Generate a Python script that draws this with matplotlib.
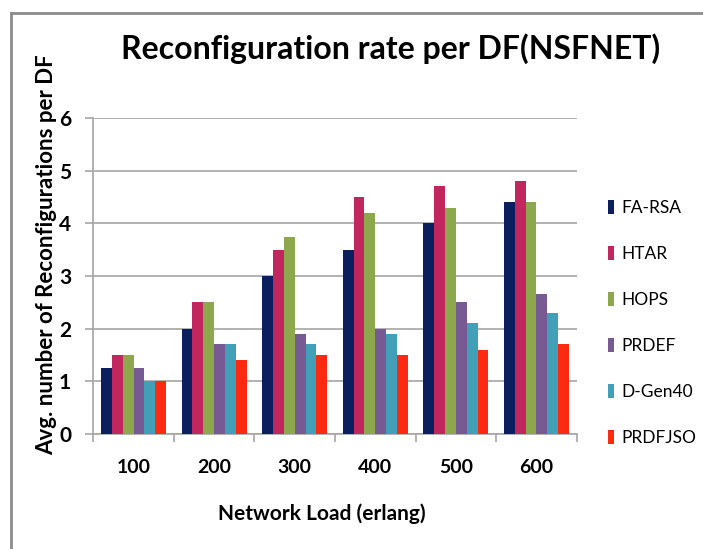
import numpy as np
import matplotlib
matplotlib.use("Agg")
import matplotlib.pyplot as plt
from matplotlib.lines import Line2D

plt.rcParams['font.family'] = ['Lato', 'DejaVu Sans']

# データ
loads = ["100", "200", "300", "400", "500", "600"]
series_names = ["FA-RSA", "HTAR", "HOPS", "PRDEF", "D-Gen40", "PRDFJSO"]
fa_rsa = [1.25, 2.0, 3.0, 3.5, 4.0, 4.4]
htar = [1.5, 2.5, 3.5, 4.5, 4.7, 4.8]
hops = [1.5, 2.5, 3.75, 4.2, 4.3, 4.4]
prdef = [1.25, 1.7, 1.9, 2.0, 2.5, 2.65]
d_gen40 = [1.0, 1.7, 1.7, 1.9, 2.1, 2.3]
prdfjso = [1.0, 1.4, 1.5, 1.5, 1.6, 1.7]
colors = ["#0b1f5e", "#c2265f", "#8ca74c", "#775a93", "#41a0b8", "#fb2a10"]

W, H = 703, 549


def fx(px):
    return px / W


def fy(py):
    return 1 - py / H


fig = plt.figure(figsize=(W / 100, H / 100), dpi=100)
ax = fig.add_axes([fx(93.3), fy(434), fx(576.7) - fx(93.3), fy(118) - fy(434)])

all_series = [fa_rsa, htar, hops, prdef, d_gen40, prdfjso]
x = np.arange(len(loads))
bar_w = 0.135
for i, (name, vals) in enumerate(zip(series_names, all_series)):
    ax.bar(x + (i - 2.5) * bar_w, vals, bar_w, color=colors[i], label=name, zorder=3)

ax.set_xlim(-0.5, len(loads) - 0.5)
ax.set_ylim(0, 6)
ax.set_yticks(range(0, 7))
ax.yaxis.grid(True, color="#a6a6a6", linewidth=1.2, zorder=0)
for s in ["top", "right"]:
    ax.spines[s].set_visible(False)
for s in ["left", "bottom"]:
    ax.spines[s].set_color("#a6a6a6")
    ax.spines[s].set_linewidth(1.2)

# カテゴリ境界の目盛り
ax.set_xticks(np.arange(-0.5, len(loads)), minor=False)
ax.set_xticklabels([])
ax.set_xticks(x, minor=True)
ax.set_xticklabels(loads, minor=True, fontsize=14, fontweight="bold")
ax.tick_params(axis="x", which="major", length=6, color="#a6a6a6", width=1.2)
ax.tick_params(axis="x", which="minor", length=0, pad=18)
ax.tick_params(axis="y", length=6, color="#a6a6a6", width=1.2, pad=10,
               labelsize=15)
for t in ax.get_yticklabels():
    t.set_fontweight("bold")

fig.text(fx(391), fy(49), "Reconfiguration rate per DF(NSFNET)", fontsize=23,
         fontweight="bold", ha="center", va="center")
fig.text(fx(47), fy(255), "Avg. number of Reconfigurations per DF", fontsize=16,
         fontweight="bold", rotation=90, ha="center", va="center")
fig.text(fx(322), fy(514), "Network Load (erlang)", fontsize=15,
         fontweight="bold", ha="center", va="center")

fig.legend(loc="center left", bbox_to_anchor=(fx(608), fy(323)),
           bbox_transform=fig.transFigure, frameon=False, fontsize=12.5,
           handlelength=0.35, handleheight=0.85, handletextpad=0.4,
           labelspacing=1.73, borderpad=0, borderaxespad=0)

# 外枠（上と左のみ）
fig.add_artist(Line2D([fx(11), fx(11)], [fy(13), 0], color="#8c8c8c", linewidth=2))
fig.add_artist(Line2D([fx(11), 1], [fy(13), fy(13)], color="#8c8c8c", linewidth=2))

fig.savefig("out.png", dpi=100)
